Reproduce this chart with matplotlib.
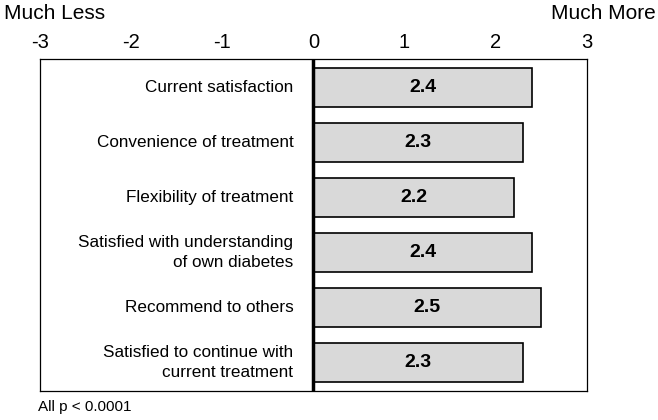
import numpy as np
import matplotlib.pyplot as plt

plt.rcParams['font.family'] = ['Liberation Sans', 'DejaVu Sans']

items = ['Current satisfaction', 'Convenience of treatment', 'Flexibility of treatment',
         'Satisfied with understanding\nof own diabetes', 'Recommend to others',
         'Satisfied to continue with\ncurrent treatment']
scores = [2.4, 2.3, 2.2, 2.4, 2.5, 2.3]
ticks = [-3, -2, -1, 0, 1, 2, 3]

fig = plt.figure(figsize=(6.58, 4.2), dpi=100)
ax = fig.add_axes([0.0608, 0.069, 0.831, 0.7905])

y = np.arange(len(items))
ax.barh(y, scores, height=0.71, color='#d9d9d9', edgecolor='black', linewidth=1.2, zorder=2)
for yi, v in zip(y, scores):
    ax.text(v / 2, yi, f'{v:.1f}', ha='center', va='center', fontsize=14, fontweight='bold', zorder=3)
    ax.text(-0.22, yi, items[yi], ha='right', va='center', fontsize=12.3, linespacing=1.4)

ax.axvline(0, color='black', linewidth=2.5, zorder=4)
ax.set_xlim(-3, 3)
ax.set_ylim(5.52, -0.52)
ax.set_xticks(ticks)
ax.set_xticklabels([str(t) for t in ticks], fontsize=14.5)
ax.xaxis.tick_top()
ax.tick_params(axis='x', length=0, pad=5)
ax.set_yticks([])
for s in ax.spines.values():
    s.set_linewidth(0.9)

fig.text(0.006, 0.99, 'Much Less', ha='left', va='top', fontsize=15)
fig.text(0.997, 0.99, 'Much More', ha='right', va='top', fontsize=15)
fig.text(0.058, 0.03, 'All p < 0.0001', ha='left', va='center', fontsize=11)

fig.savefig('out.png', dpi=100)
